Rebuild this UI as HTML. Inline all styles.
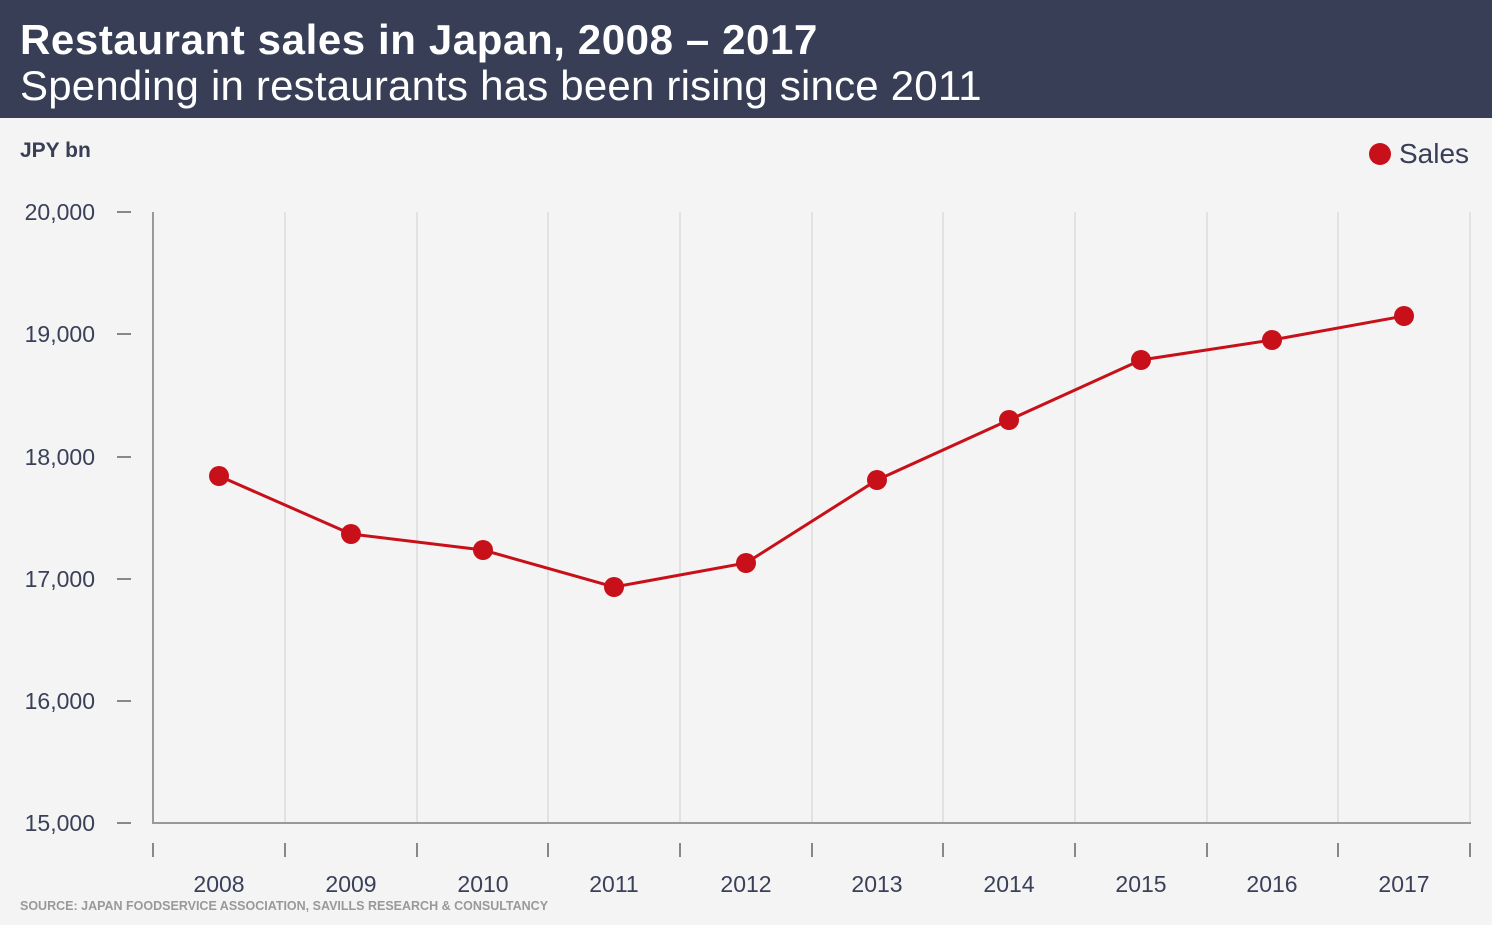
<!DOCTYPE html>
<html><head><meta charset="utf-8"><style>
body{margin:0;width:1492px;height:920px;background:#f4f4f4;font-family:"Liberation Sans",sans-serif;overflow:hidden}
</style></head><body>
<svg width="1492" height="920" xmlns="http://www.w3.org/2000/svg" font-family="Liberation Sans, sans-serif">
<rect x="0" y="0" width="1492" height="118" fill="#373e56"/>
<text x="20" y="54" fill="#fff" font-size="42" font-weight="bold" letter-spacing="0.6">Restaurant sales in Japan, 2008 – 2017</text>
<text x="20" y="100" fill="#fff" font-size="42" letter-spacing="0.2">Spending in restaurants has been rising since 2011</text>
<text x="20" y="157" fill="#373e56" font-size="21" font-weight="bold">JPY bn</text>
<circle cx="1380" cy="154" r="11" fill="#c8101a"/>
<text x="1399" y="163" fill="#373e56" font-size="28">Sales</text>
<g stroke="#e2e2e2" stroke-width="2">
<line x1="285" y1="212" x2="285" y2="823"/><line x1="417" y1="212" x2="417" y2="823"/><line x1="548" y1="212" x2="548" y2="823"/><line x1="680" y1="212" x2="680" y2="823"/><line x1="812" y1="212" x2="812" y2="823"/><line x1="943" y1="212" x2="943" y2="823"/><line x1="1075" y1="212" x2="1075" y2="823"/><line x1="1207" y1="212" x2="1207" y2="823"/><line x1="1338" y1="212" x2="1338" y2="823"/><line x1="1470" y1="212" x2="1470" y2="823"/>
</g>
<line x1="153" y1="212" x2="153" y2="824" stroke="#999" stroke-width="2"/>
<line x1="152" y1="823" x2="1471" y2="823" stroke="#999" stroke-width="2"/>
<g stroke="#888" stroke-width="2">
<line x1="117" y1="212" x2="131" y2="212"/><line x1="117" y1="334" x2="131" y2="334"/><line x1="117" y1="457" x2="131" y2="457"/><line x1="117" y1="579" x2="131" y2="579"/><line x1="117" y1="701" x2="131" y2="701"/><line x1="117" y1="823" x2="131" y2="823"/>
<line x1="153" y1="843" x2="153" y2="857"/><line x1="285" y1="843" x2="285" y2="857"/><line x1="417" y1="843" x2="417" y2="857"/><line x1="548" y1="843" x2="548" y2="857"/><line x1="680" y1="843" x2="680" y2="857"/><line x1="812" y1="843" x2="812" y2="857"/><line x1="943" y1="843" x2="943" y2="857"/><line x1="1075" y1="843" x2="1075" y2="857"/><line x1="1207" y1="843" x2="1207" y2="857"/><line x1="1338" y1="843" x2="1338" y2="857"/><line x1="1470" y1="843" x2="1470" y2="857"/>
</g>
<g fill="#3a4058" font-size="23" text-anchor="end">
<text x="95" y="220">20,000</text><text x="95" y="342">19,000</text><text x="95" y="465">18,000</text><text x="95" y="587">17,000</text><text x="95" y="709">16,000</text><text x="95" y="831">15,000</text>
</g>
<g fill="#3a4058" font-size="23" text-anchor="middle">
<text x="219" y="892">2008</text><text x="351" y="892">2009</text><text x="483" y="892">2010</text><text x="614" y="892">2011</text><text x="746" y="892">2012</text><text x="877" y="892">2013</text><text x="1009" y="892">2014</text><text x="1141" y="892">2015</text><text x="1272" y="892">2016</text><text x="1404" y="892">2017</text>
</g>
<text x="20" y="910" fill="#999" font-size="12.5" font-weight="bold">SOURCE: JAPAN FOODSERVICE ASSOCIATION, SAVILLS RESEARCH &amp; CONSULTANCY</text>
<polyline fill="none" stroke="#c8101a" stroke-width="3" points="219,476 351,534 483,550 614,587 746,563 877,480 1009,420 1141,360 1272,340 1404,316"/>
<g fill="#c8101a">
<circle cx="219" cy="476" r="10"/><circle cx="351" cy="534" r="10"/><circle cx="483" cy="550" r="10"/><circle cx="614" cy="587" r="10"/><circle cx="746" cy="563" r="10"/><circle cx="877" cy="480" r="10"/><circle cx="1009" cy="420" r="10"/><circle cx="1141" cy="360" r="10"/><circle cx="1272" cy="340" r="10"/><circle cx="1404" cy="316" r="10"/>
</g>
</svg>
</body></html>
